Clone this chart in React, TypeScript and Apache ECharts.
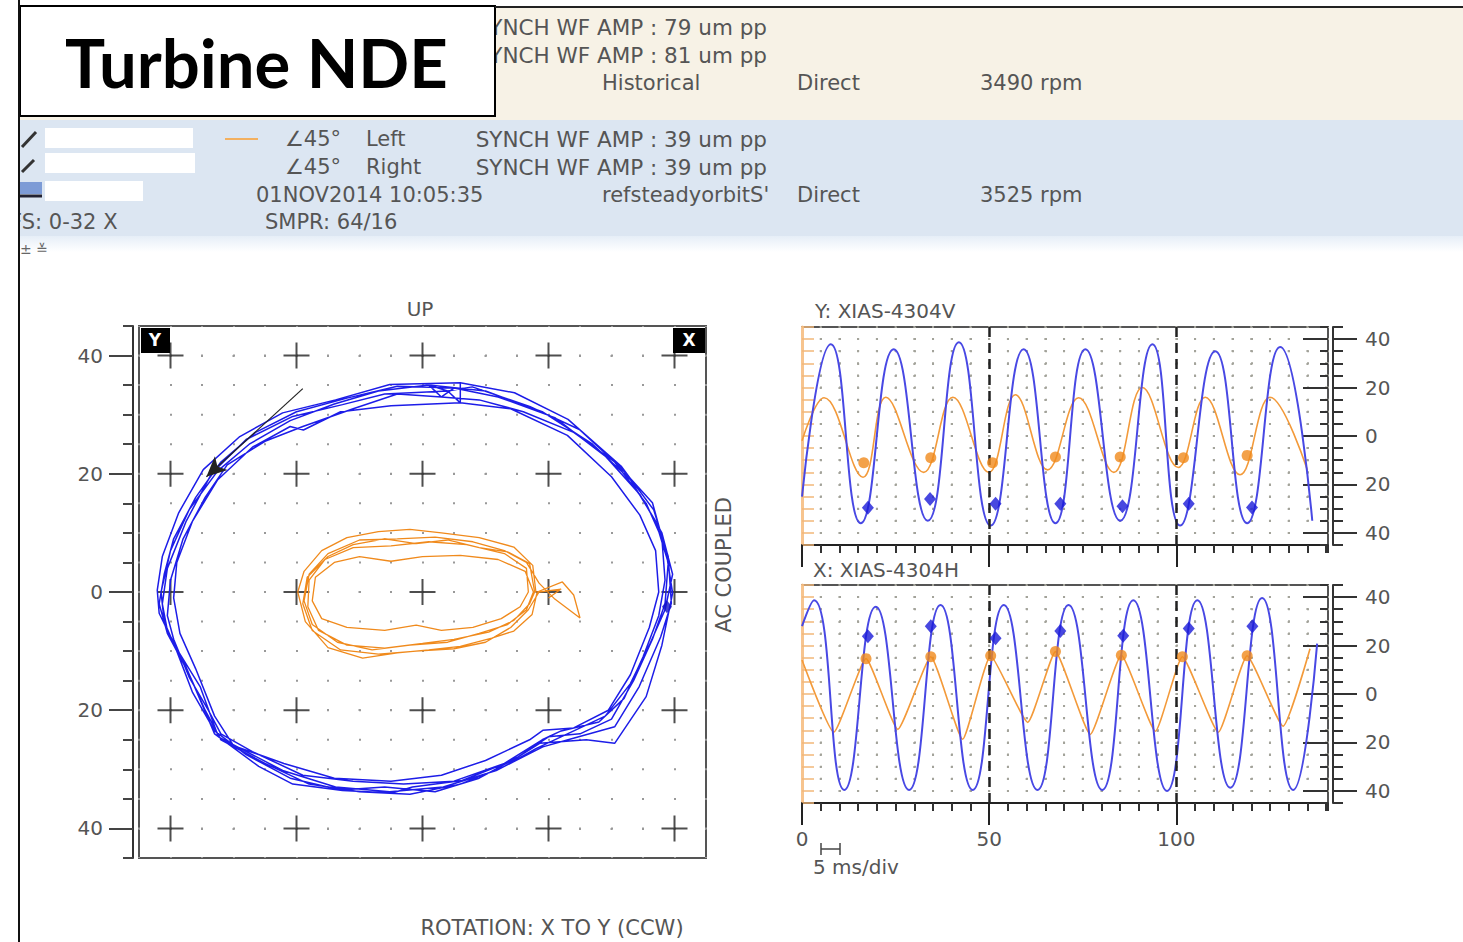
import React, { useEffect, useRef } from "react";
import * as echarts from "echarts";

// ---------- Orbit data (um), [X, Y] ----------
const orbitBlueLap1 = [[6,35.4],[-5.2,35.1],[-13.8,32.5],[-22.2,30.3],[-29,26.3],[-34.8,20.7],[-38.7,13.4],[-41.3,6],[-42.1,0.3],[-41.8,-3.6],[-39.2,-9.3],[-35.3,-16],[-32.4,-24.5],[-22.2,-30.2],[-13.8,-33],[-5.2,-33.8],[3.3,-33],[11.7,-30.2],[19.1,-26.2],[23.1,-25],[30.5,-22.8],[34.4,-16],[37.8,-7.6],[39.5,-1.9],[39,6],[36.7,13.9],[31.6,21.2],[23.1,29.2],[14.6,33.7],[6,35.4]];
const orbitBlueLap2 = [[6,32],[-5,31.5],[-13,30.5],[-18.9,27.4],[-21,28],[-27,24.5],[-32.5,19],[-36.5,12],[-39,5],[-39.5,-1],[-38.5,-7],[-36,-13],[-33,-21],[-30,-26],[-22,-29],[-14,-31.5],[-5,-32],[3,-31],[10,-28.5],[17,-25],[19.1,-23.4],[24,-23],[29.5,-20],[33,-14],[36,-6],[37.5,0],[37,7],[34.5,13],[30,19.5],[23,26.5],[14,31],[6,32]];
const orbitBlueLap3 = [[4,34],[-6,33.5],[-12.7,31.7],[-20.6,29.7],[-28,25.8],[-33.5,20],[-37.5,12],[-40.5,4],[-41.3,-2],[-40.5,-6.5],[-38,-11.5],[-35,-19],[-33,-24],[-26,-29.5],[-20.6,-32.5],[-12.7,-33.6],[-4.8,-34],[-1.6,-33],[6.3,-31.9],[14.3,-28.5],[18.6,-25.6],[26,-25],[30.5,-25.6],[35.5,-17.7],[38,-9],[39.7,-0.2],[38.7,6.6],[36.5,15.1],[31.3,21.2],[24.9,27.5],[17,31.4],[7.9,34.7],[4,34]];
const orbitBlueLap4 = [[1,35],[-7,34],[-14,31.8],[-21,29],[-27.5,25],[-32.5,20.5],[-37,14],[-40,7],[-41.5,0],[-41,-5],[-39,-10],[-36.5,-17],[-33,-23.5],[-28,-27.5],[-21,-31.5],[-13,-33.5],[-6,-33],[2,-33.8],[9,-31.5],[15,-28],[20,-24.5],[25,-24],[30,-21.5],[33.5,-15],[36.5,-8],[38.5,-2],[39,5],[37,12],[33,19],[27,25],[19,30.5],[10,34],[1,35]];
const orbitBlueLap5 = [[3,33],[-4,33.5],[-11,31],[-19,28],[-25,25.5],[-31,21.5],[-34.5,16],[-38,9],[-40,2],[-40.5,-4],[-39.5,-8],[-37,-14.5],[-34,-20],[-32,-24],[-27,-27],[-19,-31],[-11,-32],[-3,-32.5],[5,-32],[13,-29],[19,-25],[22,-23.5],[28,-22],[32,-18],[35,-11],[37.5,-4],[38.5,2],[38,9],[35.5,15],[30.5,22],[24,27],[16,30.5],[9,32.5],[3,33]];
const orbitBlueLap6 = [[5,34.5],[-4,34.8],[-12,32.8],[-20,30.5],[-26.5,27],[-32,22],[-36,16],[-39.5,9],[-41,3],[-41.8,-2],[-40.5,-7],[-37,-14],[-34.5,-20],[-32,-25],[-25,-29],[-18,-32.5],[-10,-33.8],[-2,-34.2],[6,-32.5],[13,-29.5],[18,-26.5],[23,-24],[29,-21],[33,-15.5],[36,-9],[38.5,-3],[39.7,3],[38,10],[34.5,16.5],[29,23],[21,29.5],[12,33],[5,34.5]];
const orbitBlueKey = [[38.8, -2.5]];

const orbitOrangeLapA = [[18,0],[17.5,4.5],[14.5,7.6],[9,9.2],[3,10],[-2,10.6],[-7,10.2],[-12,9.2],[-16,7],[-18.8,3.5],[-19.8,0],[-18.6,-5],[-15,-9.4],[-9.5,-11.2],[-4,-10.3],[1,-9.8],[6,-9.2],[11,-7.8],[14.5,-6.6],[17.4,-3.8],[18.2,0]];
const orbitOrangeLapB = [[18.2,0],[22.2,1.7],[24,-0.5],[25,-4.4],[21,-1.2],[18.5,1.5],[16.5,5],[13,7],[8,8.5],[2,9.3],[-4,9],[-10,8.8],[-15,6.5],[-18,3],[-18.8,-1.5],[-17.5,-5.5],[-13.5,-8.5],[-8,-9.8],[-2,-9],[4,-8.5],[9,-7],[13.5,-5.5],[16.5,-3],[17.6,0]];
const orbitOrangeLapC = [[17.6,0],[16.3,3.5],[12,5.5],[6,6.2],[0,6],[-5,5.2],[-10,6],[-14,5],[-17,2.5],[-17.5,-1.5],[-16,-4.5],[-12,-6],[-6,-6.5],[-1,-5.6],[3,-6.5],[8,-6],[12.5,-4.5],[15.5,-2.5],[16.8,0]];
const orbitOrangeLapD = [[16.8,0],[16.5,4],[13,6.5],[7,8],[1,8.5],[-5,7.8],[-11,7.5],[-15.5,5.5],[-18,2],[-18.2,-2.5],[-16.5,-6.5],[-12,-9],[-6,-9.5],[0,-8.7],[5,-8],[10.5,-6.8],[14.5,-4.8],[17,-2],[17.8,0]];
const orbitOrangeLapE = [[17.8,0],[17,4.8],[13.5,6.8],[9,7.5],[4,8.8],[-1,8.2],[-6,9],[-11,8],[-15,6],[-18.3,2.5],[-19,-2],[-17.5,-6.5],[-13,-9.8],[-7,-10.5],[-1,-10],[5,-9.6],[10,-8.5],[14,-6],[16.8,-3],[18.5,0],[22,0.5],[20,-1]];

const orbitArrowStart = [-19, 34.4];
const orbitArrowEnd = [-34.3, 19.5];
const orbitTicks = [-40, -20, 0, 20, 40];

// ---------- Timebase data ----------
const waveTicks = [-40, -20, 0, 20, 40];
const timeLabels = [0, 50, 100];
const timeMarkers = [50, 100];

// Y: XIAS-4304V
const yBlueT = [0, 7.7, 15.7, 24.5, 33.6, 41.9, 50.4, 59.2, 67.7, 75.7, 85, 93.6, 101, 110.4, 118.9, 127.7, 136.3];
const yBlueV = [-25, 37.9, -36, 35.8, -35, 38.7, -37, 35.8, -36, 35.8, -35, 37.9, -37, 35, -36, 36.7, -35];
const yOrangeT = [0, 5.9, 16.3, 22.4, 32.5, 40.3, 49.9, 57, 65.6, 73.9, 83.3, 90.9, 100.5, 107.7, 117, 125, 135];
const yOrangeV = [-2, 15.8, -17, 16, -15, 16, -15, 17, -14, 15.8, -15, 20, -13, 16, -16, 16, -14];
const yOrangeKeys = [[16.5,-11],[34.4,-9],[50.9,-11],[67.7,-8.7],[85,-8.7],[101.9,-9],[118.9,-8]];
const yBlueKeys = [[17.6,-29.6],[34.2,-26],[51.7,-28],[69,-28],[85.6,-29],[103.3,-28],[120.2,-29.5]];

// X: XIAS-4304H
const xBlueT = [0, 3.2, 11.3, 19.7, 28.6, 37, 45.6, 53.9, 62.9, 71.2, 80.2, 88.5, 97.5, 105.6, 114.4, 122.9, 131.2, 137.6];
const xBlueV = [28, 38.7, -39.6, 36, -39.6, 36.7, -39.6, 36.7, -39.6, 36.7, -39.6, 38.7, -40, 38.7, -38.7, 39.6, -39.6, 20.8];
const xOrangeT = [0, 8.5, 17.1, 25.6, 34.4, 42.9, 50.4, 60.3, 67.7, 77, 85.3, 94.4, 101.6, 111.2, 118.9, 128.5, 135.7];
const xOrangeV = [14, -15.8, 14.6, -14.6, 15.4, -18.7, 15.8, -11.7, 17.5, -16.7, 16, -15.4, 15.4, -15.8, 15.8, -13.3, 18.7];
const xOrangeKeys = [[17.1,14.6],[34.4,15.4],[50.4,15.8],[67.7,17.5],[85.3,16],[101.6,15.4],[118.9,15.8]];
const xBlueKeys = [[17.6,23.8],[34.4,28],[51.7,23],[69,26],[85.8,24],[103.3,27],[120.3,28]];

const FONT = "'DejaVu Sans', sans-serif";
const GREY = "#555";
const ORANGE = "#f39a3a";
const ORBIT_BLUE = "#1d1de8";
const WAVE_BLUE = "#4848e4";

const zip = (t: number[], v: number[]) => t.map((x, i) => [x, v[i]]);

function dotLine(spacing: number, color = "#999") {
  return { show: true, lineStyle: { color, width: 2, type: [2, spacing - 2], dashOffset: 1 } };
}

const ORBIT = { left: 139, top: 326, width: 567, height: 532 };
const WAVE_W = 526, WAVE_H = 218;
const WAVE_TOP = [327, 585];
const T_MAX = 140.5;

function waveXAxes(g: number, showLabels: boolean) {
  return [
    {
      gridIndex: g, type: "value", min: 0, max: T_MAX, interval: 5,
      axisLine: { show: true, onZero: false, lineStyle: { color: "#222", width: 2 } },
      axisTick: { show: true, length: 8, lineStyle: { color: "#333", width: 2 } },
      axisLabel: showLabels
        ? { show: true, customValues: timeLabels, margin: 26, color: GREY, fontSize: 20, fontFamily: FONT }
        : { show: false },
      splitLine: dotLine((WAVE_H / 90) * 5, "#a3a39a"),
    },
    {
      gridIndex: g, type: "value", min: 0, max: T_MAX, position: "bottom",
      axisLine: { show: false, onZero: false },
      axisTick: { show: true, customValues: timeLabels, length: 22, lineStyle: { color: "#222", width: 2 } },
      axisLabel: { show: false }, splitLine: { show: false },
    },
  ];
}

function waveYAxes(g: number) {
  const base = { gridIndex: g, type: "value", min: -45, max: 45, interval: 5 };
  return [
    {
      ...base, position: "left",
      axisLine: { show: true, onZero: false, lineStyle: { color: "#f7c48e", width: 3 } },
      axisTick: { show: true, inside: true, length: 12, lineStyle: { color: "#f2b779", width: 1.5 } },
      axisLabel: { show: false },
      splitLine: dotLine((WAVE_W / T_MAX) * 5, "#a3a39a"),
    },
    {
      ...base, position: "right", offset: 5,
      axisLine: { show: true, onZero: false, lineStyle: { color: "#333", width: 2 } },
      axisTick: { show: true, customValues: waveTicks, length: 24, lineStyle: { color: "#333", width: 2 } },
      axisLabel: { show: true, customValues: waveTicks, margin: 32, color: GREY, fontSize: 20, fontFamily: FONT, formatter: (v: number) => String(Math.abs(v)) },
      splitLine: { show: false },
    },
    {
      ...base, position: "right", offset: 5,
      axisLine: { show: false, onZero: false },
      axisTick: { show: true, length: 10, lineStyle: { color: "#333", width: 2 } },
      axisLabel: { show: false }, splitLine: { show: false },
    },
    {
      ...base, position: "right", offset: 0,
      axisLine: { show: false, onZero: false },
      axisTick: { show: true, inside: true, customValues: waveTicks, length: 25, lineStyle: { color: "#333", width: 2 } },
      axisLabel: { show: false }, splitLine: { show: false },
    },
    {
      ...base, position: "right", offset: 0,
      axisLine: { show: false, onZero: false },
      axisTick: { show: true, inside: true, length: 8, lineStyle: { color: "#333", width: 2 } },
      axisLabel: { show: false }, splitLine: { show: false },
    },
  ];
}

function waveSeries(xIdx: number, yIdx: number, blue: number[][], orange: number[][], blueKeys: number[][], orangeKeys: number[][], orangeSmooth: number) {
  return [
    {
      type: "line", xAxisIndex: xIdx, yAxisIndex: yIdx, data: orange, smooth: orangeSmooth,
      showSymbol: false, lineStyle: { color: ORANGE, width: 1.6 }, z: 3, silent: true,
    },
    {
      type: "line", xAxisIndex: xIdx, yAxisIndex: yIdx, data: blue, smooth: 0.5,
      showSymbol: false, lineStyle: { color: WAVE_BLUE, width: 2 }, z: 4, silent: true,
      markLine: {
        silent: true, symbol: ["none", "none"], label: { show: false },
        lineStyle: { color: "#222", type: [10, 6], width: 2.5 },
        data: timeMarkers.map((t) => ({ xAxis: t })),
      },
    },
    {
      type: "scatter", xAxisIndex: xIdx, yAxisIndex: yIdx, data: orangeKeys, symbol: "circle",
      symbolSize: 11, itemStyle: { color: "#f08a1c" }, z: 5, silent: true,
    },
    {
      type: "scatter", xAxisIndex: xIdx, yAxisIndex: yIdx, data: blueKeys, symbol: "diamond",
      symbolSize: [12, 14], itemStyle: { color: "#1a1ad8" }, z: 6, silent: true,
    },
  ];
}

function txt(text: string, x: number, y: number, opts: any = {}) {
  return {
    type: "text", x, y, z: opts.z ?? 5, rotation: opts.rotation ?? 0,
    style: {
      text, fill: opts.fill ?? GREY, fontSize: opts.size ?? 21, fontFamily: opts.family ?? FONT,
      fontWeight: opts.weight ?? "normal", align: opts.align ?? "left", verticalAlign: "middle",
    },
  };
}

function buildOption() {
  const crosses: number[][] = [];
  orbitTicks.forEach((x) => orbitTicks.forEach((y) => crosses.push([x, y])));

  const graphics: any[] = [
    { type: "rect", z: 0, shape: { x: 18, y: 7, width: 1445, height: 113 }, style: { fill: "#f7f2e6" } },
    { type: "rect", z: 0, shape: { x: 18, y: 120, width: 1445, height: 116 }, style: { fill: "#dce6f2" } },
    {
      type: "rect", z: 0, shape: { x: 18, y: 236, width: 1445, height: 16 },
      style: { fill: new echarts.graphic.LinearGradient(0, 0, 0, 1, [{ offset: 0, color: "#e6eef7" }, { offset: 1, color: "#ffffff" }]) },
    },
    // band 1
    txt("SYNCH WF AMP : 79 um pp", 767, 27, { align: "right", size: 21.5 }),
    txt("SYNCH WF AMP : 81 um pp", 767, 55, { align: "right", size: 21.5 }),
    txt("Historical", 602, 83),
    txt("Direct", 797, 83),
    txt("3490 rpm", 980, 83),
    // band 2
    { type: "line", z: 5, shape: { x1: 225, y1: 139, x2: 258, y2: 139 }, style: { stroke: "#f3b060", lineWidth: 2 } },
    txt("∠45°", 285, 139),
    txt("Left", 366, 139),
    txt("SYNCH WF AMP : 39 um pp", 767, 139, { align: "right", size: 21.5 }),
    txt("∠45°", 285, 167),
    txt("Right", 366, 167),
    txt("SYNCH WF AMP : 39 um pp", 767, 167, { align: "right", size: 21.5 }),
    txt("01NOV2014 10:05:35", 256, 195),
    txt("refsteadyorbitS'", 602, 195),
    txt("Direct", 797, 195),
    txt("3525 rpm", 980, 195),
    txt("FS: 0-32 X", 10, 222),
    txt("SMPR: 64/16", 265, 222),
    { type: "rect", z: 6, shape: { x: 45, y: 128, width: 148, height: 20 }, style: { fill: "#ffffff" } },
    { type: "rect", z: 6, shape: { x: 45, y: 153, width: 150, height: 20 }, style: { fill: "#ffffff" } },
    { type: "rect", z: 6, shape: { x: 45, y: 181, width: 98, height: 20 }, style: { fill: "#ffffff" } },
    { type: "line", z: 6, shape: { x1: 22, y1: 147, x2: 36, y2: 132 }, style: { stroke: "#333", lineWidth: 3 } },
    { type: "line", z: 6, shape: { x1: 22, y1: 172, x2: 34, y2: 160 }, style: { stroke: "#333", lineWidth: 3 } },
    { type: "rect", z: 6, shape: { x: 20, y: 182, width: 22, height: 12 }, style: { fill: "#7d9bd6" } },
    { type: "line", z: 6, shape: { x1: 20, y1: 196, x2: 42, y2: 196 }, style: { stroke: "#223", lineWidth: 3 } },
    txt("± ≚", 20, 249, { size: 14, fill: "#666" }),
    // title box
    { type: "rect", z: 10, shape: { x: 20, y: 6, width: 475, height: 110 }, style: { fill: "#ffffff", stroke: "#000", lineWidth: 2 } },
    txt("Turbine NDE", 65, 62, { z: 11, size: 67, family: "Lato, 'Open Sans', sans-serif", weight: "bold", fill: "#000" }),
    // page border
    { type: "rect", z: 12, shape: { x: 0, y: 0, width: 18, height: 942 }, style: { fill: "#ffffff" } },
    { type: "line", z: 13, shape: { x1: 19, y1: 0, x2: 19, y2: 942 }, style: { stroke: "#111", lineWidth: 2 } },
    { type: "line", z: 13, shape: { x1: 495, y1: 7, x2: 1463, y2: 7 }, style: { stroke: "#222", lineWidth: 2 } },
    // orbit labels
    txt("UP", 420, 309, { align: "center", size: 20 }),
    txt("ROTATION: X TO Y (CCW)", 552, 928, { align: "center", size: 21 }),
    txt("AC COUPLED", 724, 565, { align: "center", size: 21, rotation: Math.PI / 2 }),
    { type: "rect", z: 20, shape: { x: 141, y: 328, width: 29, height: 25 }, style: { fill: "#000" } },
    txt("Y", 155, 340, { z: 21, align: "center", size: 17, fill: "#fff", weight: "bold" }),
    { type: "rect", z: 20, shape: { x: 673, y: 328, width: 32, height: 25 }, style: { fill: "#000" } },
    txt("X", 689, 340, { z: 21, align: "center", size: 17, fill: "#fff", weight: "bold" }),
    // waveform labels
    txt("Y: XIAS-4304V", 815, 311, { size: 20 }),
    txt("X: XIAS-4304H", 813, 570, { size: 20 }),
    txt("5 ms/div", 813, 867, { size: 20 }),
    { type: "line", z: 5, shape: { x1: 821, y1: 849, x2: 840, y2: 849 }, style: { stroke: "#444", lineWidth: 1.5 } },
    { type: "line", z: 5, shape: { x1: 821, y1: 843, x2: 821, y2: 855 }, style: { stroke: "#444", lineWidth: 1.5 } },
    { type: "line", z: 5, shape: { x1: 840, y1: 843, x2: 840, y2: 855 }, style: { stroke: "#444", lineWidth: 1.5 } },
  ];

  const grids = [
    { ...ORBIT, show: true, borderColor: "#555", borderWidth: 2, backgroundColor: "#fff", containLabel: false, outerBoundsMode: "none" },
    { left: 802, top: WAVE_TOP[0], width: WAVE_W, height: WAVE_H, show: true, borderColor: "#555", borderWidth: 2, backgroundColor: "#fff", containLabel: false, outerBoundsMode: "none" },
    { left: 802, top: WAVE_TOP[1], width: WAVE_W, height: WAVE_H, show: true, borderColor: "#555", borderWidth: 2, backgroundColor: "#fff", containLabel: false, outerBoundsMode: "none" },
  ];

  const xAxis = [
    {
      gridIndex: 0, type: "value", min: -45, max: 45, interval: 5,
      axisLine: { show: false, onZero: false }, axisTick: { show: false }, axisLabel: { show: false },
      splitLine: dotLine(ORBIT.height / 18),
    },
    ...waveXAxes(1, false),
    ...waveXAxes(2, true),
  ];

  const yAxis = [
    {
      gridIndex: 0, type: "value", min: -45, max: 45, interval: 5, position: "left", offset: 6,
      axisLine: { show: true, onZero: false, lineStyle: { color: "#333", width: 2 } },
      axisTick: { show: true, customValues: orbitTicks, length: 24, lineStyle: { color: "#444", width: 2 } },
      axisLabel: { show: true, customValues: orbitTicks, margin: 30, color: GREY, fontSize: 20, fontFamily: FONT, formatter: (v: number) => String(Math.abs(v)) },
      splitLine: dotLine(ORBIT.width / 18),
    },
    {
      gridIndex: 0, type: "value", min: -45, max: 45, interval: 5, position: "left", offset: 6,
      axisLine: { show: false, onZero: false },
      axisTick: { show: true, length: 10, lineStyle: { color: "#444", width: 2 } },
      axisLabel: { show: false }, splitLine: { show: false },
    },
    ...waveYAxes(1),
    ...waveYAxes(2),
  ];

  const series: any[] = [
    {
      type: "scatter", xAxisIndex: 0, yAxisIndex: 0, data: crosses, silent: true, z: 2,
      symbol: "path://M12,0h2v26h-2z M0,12h26v2h-26z", symbolSize: 26, itemStyle: { color: "#222" },
    },
    {
      type: "line", xAxisIndex: 0, yAxisIndex: 0, silent: true, z: 3, showSymbol: false,
      data: [...orbitOrangeLapA, ...orbitOrangeLapB, ...orbitOrangeLapC, ...orbitOrangeLapD, ...orbitOrangeLapE],
      lineStyle: { color: "#f08a1c", width: 1.3 },
    },
    {
      type: "line", xAxisIndex: 0, yAxisIndex: 0, silent: true, z: 4, showSymbol: false,
      data: [...orbitBlueLap1, ...orbitBlueLap2, ...orbitBlueLap3, ...orbitBlueLap4, ...orbitBlueLap5, ...orbitBlueLap6],
      lineStyle: { color: ORBIT_BLUE, width: 1.5 },
      markLine: {
        silent: true, symbol: ["none", "arrow"], symbolSize: [14, 20], label: { show: false },
        lineStyle: { color: "#222", width: 1.2, type: "solid", curveness: 0.12 },
        data: [[{ coord: orbitArrowStart }, { coord: orbitArrowEnd }]],
      },
    },
    {
      type: "scatter", xAxisIndex: 0, yAxisIndex: 0, silent: true, z: 5, data: orbitBlueKey,
      symbol: "diamond", symbolSize: [10, 13], itemStyle: { color: "#1414c8" },
    },
    ...waveSeries(1, 2, zip(yBlueT, yBlueV), zip(yOrangeT, yOrangeV), yBlueKeys, yOrangeKeys, 0.4),
    ...waveSeries(3, 7, zip(xBlueT, xBlueV), zip(xOrangeT, xOrangeV), xBlueKeys, xOrangeKeys, 0.15),
  ];

  return { animation: false, backgroundColor: "#fff", graphic: { elements: graphics }, grid: grids, xAxis, yAxis, series };
}

export default function App() {
  const ref = useRef<HTMLDivElement>(null);
  useEffect(() => {
    const chart = echarts.init(ref.current!, null, { renderer: "svg" });
    chart.setOption(buildOption() as any);
    return () => chart.dispose();
  }, []);
  return <div ref={ref} style={{ position: "absolute", left: 0, top: 0, width: 1463, height: 942 }} />;
}
